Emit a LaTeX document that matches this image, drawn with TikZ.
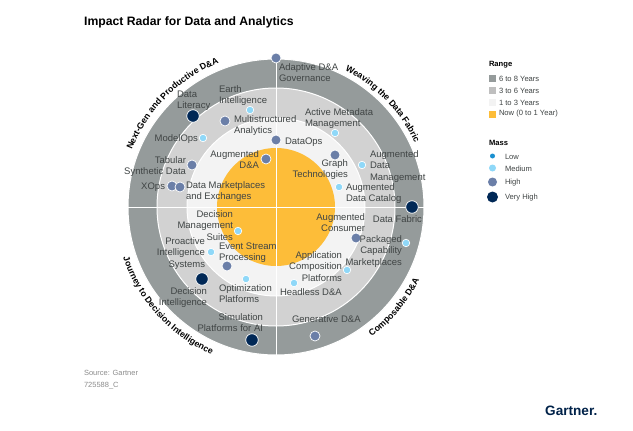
\documentclass[tikz,border=0pt]{standalone}
\usepackage{fontspec}
\setmainfont{Liberation Sans}
\usetikzlibrary{calc}
\definecolor{ringA}{HTML}{959B9B}
\definecolor{ringB}{HTML}{D2D2D2}
\definecolor{ringC}{HTML}{F3F3F3}
\definecolor{ringD}{HTML}{FDBD39}
\definecolor{massL}{HTML}{1A90D0}
\definecolor{massM}{HTML}{8FD8F8}
\definecolor{massH}{HTML}{6B7FA8}
\definecolor{massV}{HTML}{002856}
\definecolor{labelc}{HTML}{404545}
\tikzset{
  x=1pt,y=1pt,
  ring/.style={circle,draw=white,line width=1pt,inner sep=0pt,outer sep=0pt},
  dotbase/.style={circle,draw=white,line width=.7pt,inner sep=0pt,outer sep=0pt},
  dotL/.style={dotbase,fill=massL,minimum size=5.5pt},
  dotM/.style={dotbase,fill=massM,minimum size=7.5pt},
  dotH/.style={dotbase,fill=massH,minimum size=10pt},
  dotV/.style={dotbase,fill=massV,minimum size=12.5pt},
  lab/.style={inner sep=0pt,outer sep=0pt,text=labelc,font=\fontsize{9.5}{11.3}\selectfont},
  labwest/.style={lab,anchor=north west,align=left},
  labeast/.style={lab,anchor=north east,align=right},
  swatch/.style={inner sep=0pt,outer sep=0pt,minimum size=7pt},
  legtext/.style={inner sep=0pt,outer sep=0pt,anchor=west,text=labelc,font=\fontsize{7.6}{9}\selectfont},
  legtitle/.style={inner sep=0pt,outer sep=0pt,anchor=west,text=black,font=\fontsize{7.6}{9}\selectfont\bfseries},
  foot/.style={inner sep=0pt,outer sep=0pt,anchor=west,text=black!45,font=\fontsize{7.5}{9}\selectfont},
  arcletter/.style={inner sep=0pt,outer sep=0pt,anchor=base,text=black,font=\fontsize{8.8}{10}\selectfont\bfseries}
}
\newcommand{\lbl}[5]{\node[lab#2] (#1) at (#3,-#4+4.4) {\strut #5};}
\newcommand{\dotn}[4]{\node[dot#2] (#1) at (#3,-#4) {};}
% curved caption: radius, centre angle, direction (-1 clockwise over the top, 1 counterclockwise under),
% total width in 1/1000 em, letter/width pairs
\newcommand{\arctext}[5]{%
  \pgfmathsetmacro{\arcstart}{-0.5*(#4)/1000*8.8}%
  \xdef\arccur{\arcstart}%
  \foreach \c/\w in {#5}{%
    \pgfmathsetmacro{\arcw}{\w/1000*8.8}%
    \pgfmathsetmacro{\arcmid}{\arccur+0.5*\arcw}%
    \pgfmathsetmacro{\arcang}{#2+(#3)*\arcmid/(#1)*57.29578}%
    \pgfmathsetmacro{\arcrot}{\arcang+(#3)*90}%
    \node[arcletter,rotate=\arcrot] at ($(276,-207)+(\arcang:#1)$) {\c};%
    \pgfmathsetmacro{\arcnext}{\arccur+\arcw}%
    \xdef\arccur{\arcnext}}%
}
\begin{document}
\begin{tikzpicture}
\useasboundingbox (0,0) rectangle (633,-431);
\fill[white] (0,0) rectangle (633,-431);
\node[inner sep=0pt,anchor=west,font=\fontsize{12.2}{14}\selectfont\bfseries,text=black] (title) at (84,-22.5) {Impact Radar for Data and Analytics};
% rings
\node[ring,fill=ringA,minimum size=296pt] (r1) at (276,-207) {};
\node[ring,fill=ringB,minimum size=238pt] (r2) at (276,-207) {};
\node[ring,fill=ringC,minimum size=178pt] (r3) at (276,-207) {};
\node[circle,fill=ringD,inner sep=0pt,minimum size=118pt] (r4) at (276,-207) {};
\draw[white,line width=.9pt] (r1.north) -- (r1.south);
\draw[white,line width=.9pt] (r1.west) -- (r1.east);
% arc labels
\arctext{155}{135}{-1}{14391}{N/722,e/556,x/556,t/333,-/333,G/778,e/556,n/611,{\ }/278,a/556,n/611,d/611,{\ }/278,P/667,r/389,o/611,d/611,u/611,c/556,t/333,i/278,v/556,e/556,{\ }/278,D/722,\&/722,A/722}
\arctext{153}{44}{-1}{11614}{W/944,e/556,a/556,v/556,i/278,n/611,g/611,{\ }/278,t/333,h/611,e/556,{\ }/278,D/722,a/556,t/333,a/556,{\ }/278,F/611,a/556,b/611,r/389,i/278,c/556}
\arctext{161}{-41}{1}{7998}{C/722,o/611,m/889,p/611,o/611,s/556,a/556,b/611,l/278,e/556,{\ }/278,D/722,\&/722,A/722}
\arctext{161}{222}{1}{15113}{J/556,o/611,u/611,r/389,n/611,e/556,y/556,{\ }/278,t/333,o/611,{\ }/278,D/722,e/556,c/556,i/278,s/556,i/278,o/611,n/611,{\ }/278,I/278,n/611,t/333,e/556,l/278,l/278,i/278,g/611,e/556,n/611,c/556,e/556}
% dots
\dotn{d1}{H}{276}{58}
\dotn{d2}{V}{193}{116}
\dotn{d3}{M}{250}{110}
\dotn{d4}{H}{225}{121}
\dotn{d5}{M}{203}{138}
\dotn{d6}{H}{192}{165}
\dotn{d7}{H}{172}{186}
\dotn{d8}{H}{180}{187}
\dotn{d9}{H}{266}{159}
\dotn{d10}{H}{276}{140}
\dotn{d11}{M}{335}{133}
\dotn{d12}{H}{335}{155}
\dotn{d13}{M}{362}{165}
\dotn{d14}{M}{339}{187}
\dotn{d15}{V}{412}{207}
\dotn{d16}{H}{356}{238}
\dotn{d17}{M}{406}{243}
\dotn{d18}{M}{347}{270}
\dotn{d19}{M}{294}{283}
\dotn{d20}{H}{315}{336}
\dotn{d21}{M}{238}{231}
\dotn{d22}{M}{211}{252}
\dotn{d23}{H}{227}{266}
\dotn{d24}{M}{246}{279}
\dotn{d25}{V}{202}{279}
\dotn{d26}{V}{252}{340}
% labels
\lbl{l1}{west}{279}{67}{Adaptive D\&A\\Governance}
\lbl{l2}{west}{177}{94}{Data\\Literacy}
\lbl{l3}{west}{219}{89}{Earth\\Intelligence}
\lbl{l4}{west}{234}{119}{Multistructured\\Analytics}
\lbl{l5}{east}{198}{138}{ModelOps}
\lbl{l6}{east}{186}{160}{Tabular\\Synthetic Data}
\lbl{l7}{east}{165}{186}{XOps}
\lbl{l8}{west}{186}{185}{Data Marketplaces\\and Exchanges}
\lbl{l9}{east}{259}{154}{Augmented\\D\&A}
\lbl{l10}{west}{285}{141}{DataOps}
\lbl{l11}{west}{305}{112}{Active Metadata\\Management}
\lbl{l12}{east}{348}{163}{Graph\\Technologies}
\lbl{l13}{west}{370}{154}{Augmented\\Data\\Management}
\lbl{l14}{west}{346}{187}{Augmented\\Data Catalog}
\lbl{l15}{east}{422}{219}{Data Fabric}
\lbl{l16}{east}{365}{217}{Augmented\\Consumer}
\lbl{l17}{east}{402}{239}{Packaged\\Capability\\Marketplaces}
\lbl{l18}{east}{342}{255}{Application\\Composition\\Platforms}
\lbl{l19}{west}{280}{292}{Headless D\&A}
\lbl{l20}{west}{292}{319}{Generative D\&A}
\lbl{l21}{east}{233}{214}{Decision\\Management\\Suites}
\lbl{l22}{east}{205}{241}{Proactive\\Intelligence\\Systems}
\lbl{l23}{west}{219}{246}{Event Stream\\Processing}
\lbl{l24}{west}{219}{288}{Optimization\\Platforms}
\lbl{l25}{east}{207}{291}{Decision\\Intelligence}
\lbl{l26}{east}{263}{317}{Simulation\\Platforms for AI}
% legend
\node[legtitle] (rangeT) at (489,-65) {Range};
\node[swatch,fill=ringA] (s1) at (492.5,-78) {};
\node[swatch,fill=black!25] (s2) at (492.5,-90) {};
\node[swatch,fill=ringC] (s3) at (492.5,-102.5) {};
\node[swatch,fill=ringD] (s4) at (492.5,-114) {};
\node[legtext] (t1) at (499,-78.5) {6 to 8 Years};
\node[legtext] (t2) at (499,-90.5) {3 to 6 Years};
\node[legtext] (t3) at (499,-102.5) {1 to 3 Years};
\node[legtext] (t4) at (499,-114) {Now (0 to 1 Year)};
\node[legtitle] (massT) at (489,-143) {Mass};
\node[circle,fill=massL,inner sep=0pt,minimum size=5pt] (m1) at (492.5,-156) {};
\node[circle,fill=massM,inner sep=0pt,minimum size=7pt] (m2) at (492.5,-168) {};
\node[circle,fill=massH,inner sep=0pt,minimum size=9pt] (m3) at (492.5,-182) {};
\node[circle,fill=massV,inner sep=0pt,minimum size=11pt] (m4) at (492.5,-197) {};
\node[legtext] (t5) at (505,-156.5) {Low};
\node[legtext] (t6) at (505,-168.5) {Medium};
\node[legtext] (t7) at (505,-182.5) {High};
\node[legtext] (t8) at (505,-198) {Very High};
% footer
\node[foot] (src) at (84,-373) {Source: Gartner};
\node[foot] (code) at (84,-386) {725588\_C};
\node[inner sep=0pt,anchor=west,font=\fontsize{13.6}{16}\selectfont\bfseries,text=massV!85!black] (logo) at (545,-411) {Gartner.};
\end{tikzpicture}
\end{document}
